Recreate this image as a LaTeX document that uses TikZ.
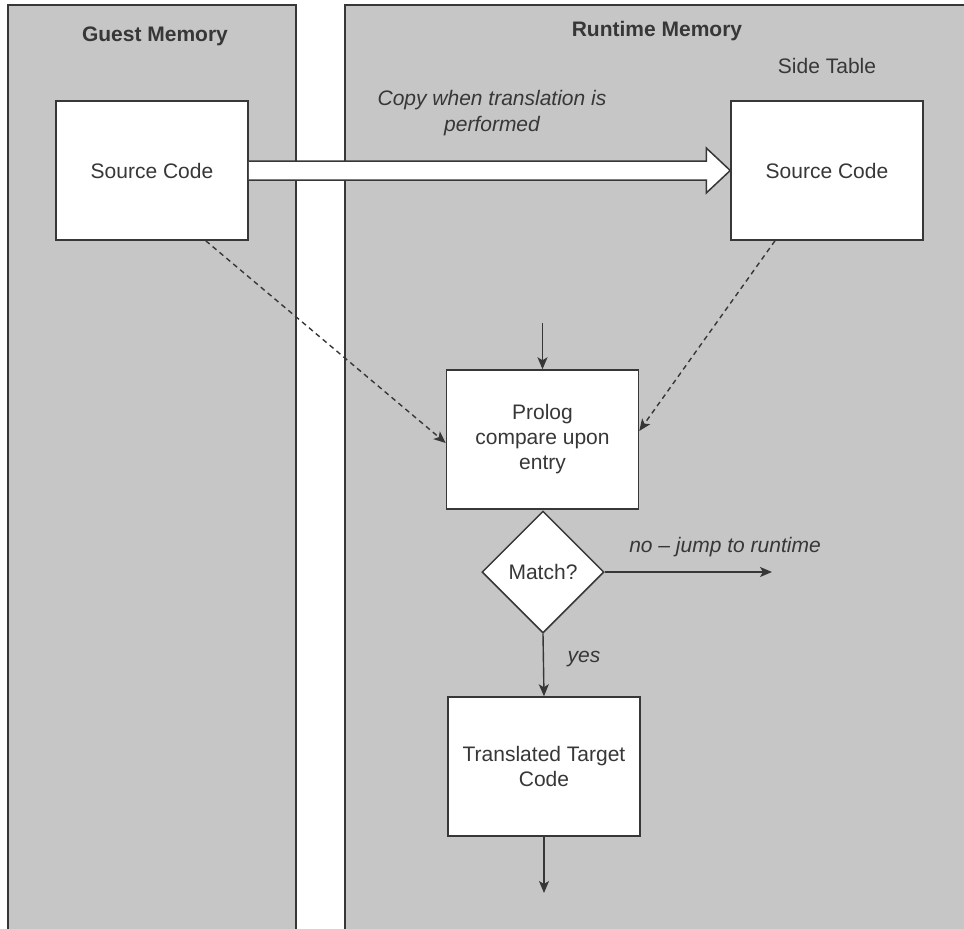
\documentclass[tikz,border=0pt]{standalone}
\usepackage{fontspec}
\setmainfont{Liberation Sans}
\usetikzlibrary{shapes.geometric,arrows.meta,calc}
\definecolor{panelgray}{RGB}{198,198,198}
\definecolor{ink}{RGB}{55,55,55}
\tikzset{
  panel/.style={draw=ink,line width=1.5pt,fill=panelgray},
  box/.style={draw=ink,line width=1.5pt,fill=white,minimum width=192pt,minimum height=139pt,inner sep=0pt,align=center,text=ink,font=\fontsize{21}{25}\selectfont},
  decision/.style={diamond,draw=ink,line width=1.5pt,fill=white,minimum width=122pt,minimum height=122pt,inner sep=0pt,aspect=1,text=ink,font=\fontsize{21}{25}\selectfont},
  lbl/.style={text=ink,font=\fontsize{21}{26}\selectfont,align=center,inner sep=0pt},
  ilbl/.style={text=ink,font=\fontsize{21}{26}\selectfont\itshape,align=center,inner sep=0pt},
  blbl/.style={text=ink,font=\fontsize{21}{25}\selectfont\bfseries,inner sep=0pt},
  flow/.style={draw=ink,line width=1.4pt,-{Stealth[length=12pt,width=10pt,inset=3pt]}},
  dflow/.style={draw=ink,line width=1.4pt,dash pattern=on 5pt off 4pt,-{Stealth[length=12pt,width=10pt,inset=3pt]}},
  fatarrow/.style={draw=ink,line width=1.5pt,fill=white,line join=miter}
}
\begin{document}
\begin{tikzpicture}[x=1pt,y=-1pt]
\useasboundingbox (0,0) rectangle (964,929);
\clip (0,0) rectangle (964,929);
\fill[white] (0,0) rectangle (964,929);
% panels
\draw[panel] (8,5) rectangle (296,940);
\draw[panel] (345,5) rectangle (980,940);
\node[blbl] (gm) at (155,36) {Guest Memory};
\node[blbl] (rm) at (657,31) {Runtime Memory};
\node[lbl] (st) at (827,66) {Side Table};
\node[ilbl] (copy) at (492,113) {Copy when translation is\\performed};
% boxes
\node[box] (src1) at (152,170.5) {Source Code};
\node[box] (src2) at (827,170.5) {Source Code};
\node[box] (prolog) at (542.5,439.5) {Prolog\\compare upon\\entry};
\node[decision] (match) at (543,572) {Match?};
\node[box] (trans) at (544,766.5) {Translated Target\\Code};
% fat copy arrow
\draw[fatarrow] ($(src1.east)+(0,-9.5)$) -- ($(src2.west)+(-24,-9.5)$) -- ($(src2.west)+(-24,-22.5)$)
  -- (src2.west) -- ($(src2.west)+(-24,22.5)$) -- ($(src2.west)+(-24,9.5)$) -- ($(src1.east)+(0,9.5)$);
% connectors
\coordinate (inTop) at (542.5,323);
\coordinate (noEnd) at (772,572);
\coordinate (outEnd) at (544,893);
\draw[flow] (inTop) -- (prolog.north);
\draw[dflow] ($(src1.south east)+(-43,0)$) -- ([yshift=-3.5pt]prolog.west);
\draw[dflow] ($(src2.south)+(-52,0)$) -- ([yshift=8.5pt]prolog.east);
\draw[flow] (match.east) -- (noEnd);
\draw[flow] (match.south) -- (trans.north);
\draw[flow] (trans.south) -- (outEnd);
\node[ilbl] (nolbl) at (725,547) {no -- jump to runtime};
\node[ilbl] (yeslbl) at (584,659) {yes};
\end{tikzpicture}
\end{document}
